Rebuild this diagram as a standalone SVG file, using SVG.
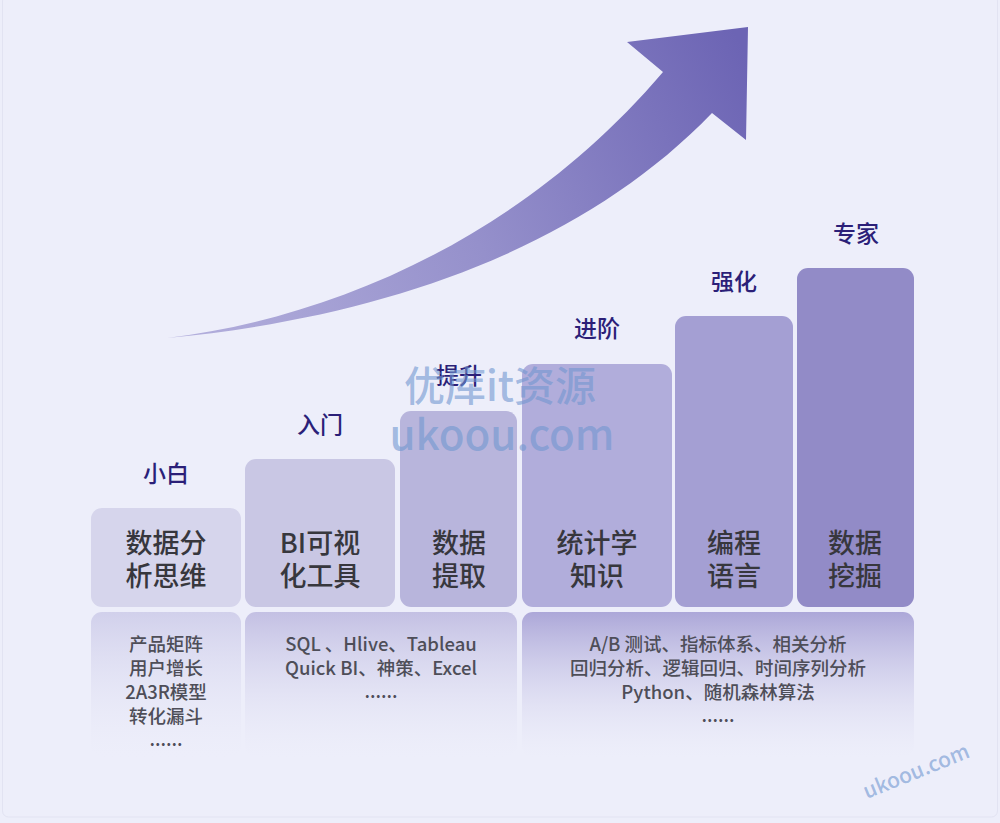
<svg xmlns="http://www.w3.org/2000/svg" width="1000" height="823" viewBox="0 0 1000 823">
<defs>
<linearGradient id="arrowGrad" gradientUnits="userSpaceOnUse" x1="167" y1="338" x2="748" y2="60">
<stop offset="0" stop-color="#b4b0dd"/>
<stop offset="0.5" stop-color="#9590cb"/>
<stop offset="1" stop-color="#6c64b4"/>
</linearGradient>
<linearGradient id="p1" x1="0" y1="0" x2="0" y2="1">
<stop offset="0" stop-color="#d1d0eb"/>
<stop offset="1" stop-color="#edeefa" stop-opacity="0.2"/>
</linearGradient>
<linearGradient id="p2" x1="0" y1="0" x2="0" y2="1">
<stop offset="0" stop-color="#c3c0e3"/>
<stop offset="1" stop-color="#edeefa" stop-opacity="0.2"/>
</linearGradient>
<linearGradient id="p3" x1="0" y1="0" x2="0" y2="1">
<stop offset="0" stop-color="#aca7d8"/>
<stop offset="1" stop-color="#edeefa" stop-opacity="0.2"/>
</linearGradient>
</defs>
<style>
.stage{font-family:"Noto Sans CJK SC","Noto Sans",sans-serif;font-size:23px;font-weight:500;fill:#2b1f78;text-anchor:middle}
.bar-text{font-family:"Noto Sans CJK SC","Noto Sans",sans-serif;font-size:27px;font-weight:500;fill:#37373d;text-anchor:middle}
.panel-text{font-family:"Noto Sans CJK SC","Noto Sans",sans-serif;font-size:18.5px;font-weight:500;fill:#4e4e58;text-anchor:middle}
.wm{font-family:"Noto Sans CJK SC","Noto Sans",sans-serif;font-weight:500;fill:#7197d0;fill-opacity:0.62;text-anchor:middle}
</style>
<rect x="0" y="0" width="1000" height="823" fill="#edeefa"/>
<rect x="2.5" y="-5" width="995" height="822" rx="6" fill="none" stroke="#e2e3f2" stroke-width="1"/>

<g id="connectors">
<path id="growth-arrow" d="M167,338 C330,318 520,240 663,72 L627,42 L748,27 L746,140 L712,113 C580,250 380,318 167,338 Z" fill="url(#arrowGrad)"/>
</g>

<g id="stage-xiaobai">
<text class="stage" x="166" y="482">小白</text>
<rect x="91" y="508" width="150" height="99" rx="11" fill="#d6d5ec"/>
<text class="bar-text" x="166" y="553">数据分</text>
<text class="bar-text" x="166" y="586">析思维</text>
</g>
<g id="stage-rumen">
<text class="stage" x="320" y="433">入门</text>
<rect x="245" y="459" width="150" height="148" rx="11" fill="#c9c7e4"/>
<text class="bar-text" x="320" y="553">BI可视</text>
<text class="bar-text" x="320" y="586">化工具</text>
</g>
<g id="stage-tisheng">
<text class="stage" x="459" y="384">提升</text>
<rect x="400" y="411" width="117" height="196" rx="11" fill="#b8b5dc"/>
<text class="bar-text" x="459" y="553">数据</text>
<text class="bar-text" x="459" y="586">提取</text>
</g>
<g id="stage-jinjie">
<text class="stage" x="597" y="337">进阶</text>
<rect x="522" y="364" width="150" height="243" rx="11" fill="#b1addb"/>
<text class="bar-text" x="597" y="553">统计学</text>
<text class="bar-text" x="597" y="586">知识</text>
</g>
<g id="stage-qianghua">
<text class="stage" x="734" y="290">强化</text>
<rect x="675" y="316" width="118" height="291" rx="11" fill="#a49fd3"/>
<text class="bar-text" x="734" y="553">编程</text>
<text class="bar-text" x="734" y="586">语言</text>
</g>
<g id="stage-zhuanjia">
<text class="stage" x="856" y="242">专家</text>
<rect x="797" y="268" width="117" height="339" rx="11" fill="#928bc7"/>
<text class="bar-text" x="855" y="553">数据</text>
<text class="bar-text" x="855" y="586">挖掘</text>
</g>

<g id="panel-1">
<rect x="91" y="612" width="150" height="145" rx="11" fill="url(#p1)"/>
<text class="panel-text" x="166" y="651">产品矩阵</text>
<text class="panel-text" x="166" y="675">用户增长</text>
<text class="panel-text" x="166" y="699">2A3R模型</text>
<text class="panel-text" x="166" y="723">转化漏斗</text>
<text class="panel-text" x="166" y="746">......</text>
</g>
<g id="panel-2">
<rect x="245" y="612" width="272" height="145" rx="11" fill="url(#p2)"/>
<text class="panel-text" x="381" y="651">SQL 、Hlive、Tableau</text>
<text class="panel-text" x="381" y="675">Quick BI、神策、Excel</text>
<text class="panel-text" x="381" y="698">......</text>
</g>
<g id="panel-3">
<rect x="522" y="612" width="392" height="145" rx="11" fill="url(#p3)"/>
<text class="panel-text" x="718" y="651">A/B 测试、指标体系、相关分析</text>
<text class="panel-text" x="718" y="675">回归分析、逻辑回归、时间序列分析</text>
<text class="panel-text" x="718" y="699">Python、随机森林算法</text>
<text class="panel-text" x="718" y="722">......</text>
</g>

<g id="watermarks">
<text class="wm" x="500" y="401" font-size="41">优库it资源</text>
<text class="wm" x="502" y="450" font-size="42">ukoou.com</text>
<text class="wm" x="0" y="0" font-size="21" fill-opacity="0.45" transform="translate(919,778) rotate(-22)">ukoou.com</text>
</g>
</svg>
